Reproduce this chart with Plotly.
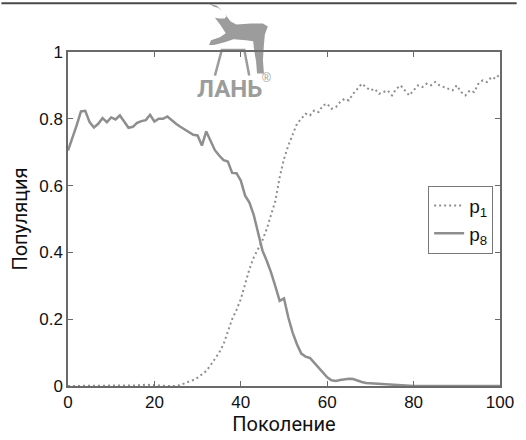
import plotly.graph_objects as go

# Generation index 0..100
generations = list(range(0, 101))

# Share of the population carrying allele p1 (dotted curve)
p1_share = [
    0.0, 0.0, 0.0, 0.0, 0.0, 0.0, 0.0, 0.0, 0.0, 0.0,
    0.0, 0.0, 0.0, 0.0, 0.0, 0.0, 0.002, 0.002, 0.004, 0.003,
    0.002, 0.0, 0.0, 0.0, 0.0, 0.0, 0.003, 0.008, 0.012, 0.018,
    0.025, 0.035, 0.045, 0.062, 0.08, 0.10, 0.125, 0.16, 0.20, 0.228,
    0.26, 0.305, 0.35, 0.385, 0.41, 0.436, 0.47, 0.51, 0.554, 0.625,
    0.68, 0.72, 0.755, 0.785, 0.80, 0.815, 0.81, 0.825, 0.82, 0.84,
    0.845, 0.83, 0.835, 0.85, 0.86, 0.855, 0.875, 0.89, 0.905, 0.895,
    0.885, 0.89, 0.875, 0.88, 0.885, 0.87, 0.89, 0.90, 0.885, 0.87,
    0.885, 0.90, 0.895, 0.905, 0.90, 0.91, 0.90, 0.895, 0.89, 0.885,
    0.90, 0.88, 0.87, 0.885, 0.88, 0.905, 0.915, 0.91, 0.925, 0.92,
    0.935,
]

# Share of the population carrying allele p8 (solid curve)
p8_share = [
    0.705, 0.74, 0.78, 0.822, 0.824, 0.79, 0.774, 0.785, 0.802, 0.79,
    0.804, 0.798, 0.81, 0.792, 0.773, 0.776, 0.788, 0.793, 0.796, 0.812,
    0.792, 0.80, 0.80, 0.807, 0.795, 0.785, 0.776, 0.768, 0.76, 0.752,
    0.75, 0.72, 0.762, 0.735, 0.706, 0.69, 0.676, 0.672, 0.638, 0.637,
    0.615, 0.57, 0.549, 0.512, 0.46, 0.406, 0.375, 0.34, 0.298, 0.255,
    0.262, 0.205, 0.16, 0.125, 0.097, 0.088, 0.084, 0.07, 0.057, 0.042,
    0.026, 0.017, 0.015, 0.018, 0.021, 0.022, 0.021, 0.016, 0.012, 0.009,
    0.008, 0.007, 0.006, 0.005, 0.004, 0.004, 0.003, 0.001, 0.0, 0.0,
    0.0, 0.0, 0.0, 0.0, 0.0, 0.0, 0.0, 0.002, 0.002, 0.002,
    0.002, 0.002, 0.0, 0.0, 0.0, 0.0, 0.0, 0.0, 0.0, 0.0,
    0.0,
]

x_ticks = [0, 20, 40, 60, 80, 100]
y_ticks = [0, 0.2, 0.4, 0.6, 0.8, 1]
y_tick_text = ["0", "0.2", "0.4", "0.6", "0.8", "1"]

W, H = 526, 440
M_L, M_R, M_T, M_B = 68, 17, 52, 48
PW, PH = W - M_L - M_R, H - M_T - M_B


def px_x(px):
    return (px - M_L) / PW


def px_y(py):
    return (H - M_B - py) / PH


curve_color = "#8e8e8e"
axis_color = "#6a6a6a"

fig = go.Figure()
fig.add_trace(go.Scatter(
    x=generations, y=p1_share, mode="lines", name="p<sub>1</sub>",
    line=dict(color=curve_color, width=2, dash="2px,3px"),
))
fig.add_trace(go.Scatter(
    x=generations, y=p8_share, mode="lines", name="p<sub>8</sub>",
    line=dict(color=curve_color, width=2.5),
))

axis_common = dict(
    showline=True, linecolor=axis_color, linewidth=1.5, mirror="ticks",
    ticks="inside", ticklen=5, tickcolor=axis_color, tickwidth=1.2,
    showgrid=False, zeroline=False,
    tickfont=dict(family="Liberation Sans, Arial, sans-serif", size=17, color="#111"),
)

fig.update_xaxes(
    range=[0, 100], tickvals=x_ticks, **axis_common,
    title=dict(text="Поколение", standoff=2,
               font=dict(family="Liberation Sans Narrow, Roboto, sans-serif", size=20, color="#111")),
)
fig.update_yaxes(
    range=[0, 1], tickvals=y_ticks, ticktext=y_tick_text, **axis_common,
    title=dict(text="Популяция", standoff=6,
               font=dict(family="Liberation Sans Narrow, Roboto, sans-serif", size=20, color="#111")),
)

# Publisher's mark: leaping deer over an open book, plus the wordmark
deer = [(212, 3), (217, 6), (221, 7), (225, 10), (230, 15), (228, 18), (222, 18),
        (218, 17), (224, 25), (229, 33), (223, 37), (214, 40), (212, 45), (217, 45),
        (228, 42), (237, 39), (250, 40), (257, 41), (258, 50), (260, 62), (261, 74),
        (268, 74), (267, 60), (268, 45), (269, 34), (272, 26), (267, 23), (255, 23),
        (240, 24), (234, 21), (228, 13), (220, 5)]
deer_path = "M " + " L ".join(f"{px_x(a):.4f},{px_y(b):.4f}" for a, b in deer) + " Z"
book = [(218, 76), (225, 50), (248, 50), (253, 76)]
book_path = "M " + " L ".join(f"{px_x(a):.4f},{px_y(b):.4f}" for a, b in book)

shapes = [
    dict(type="path", xref="paper", yref="paper", path=deer_path,
         fillcolor="#9c9c9c", line=dict(width=0), layer="below"),
    dict(type="path", xref="paper", yref="paper", path=book_path,
         line=dict(color="#9c9c9c", width=2.5), layer="below"),
    dict(type="line", xref="paper", yref="paper",
         x0=px_x(0), x1=px_x(W), y0=px_y(2.5), y1=px_y(2.5),
         line=dict(color="#4a4a4a", width=2)),
]

annotations = [
    dict(text="<b>ЛАНЬ</b>", xref="paper", yref="paper", x=px_x(233), y=px_y(90),
         showarrow=False, xanchor="center", yanchor="middle",
         font=dict(family="Liberation Sans Narrow, Roboto, sans-serif", size=24, color="#9c9c9c")),
    dict(text="®", xref="paper", yref="paper", x=px_x(271), y=px_y(78),
         showarrow=False, xanchor="center", yanchor="middle",
         font=dict(family="Liberation Sans, sans-serif", size=12, color="#9c9c9c")),
]

fig.update_layout(
    width=W, height=H,
    margin=dict(l=M_L, r=M_R, t=M_T, b=M_B, pad=0),
    paper_bgcolor="white", plot_bgcolor="white",
    shapes=shapes, annotations=annotations,
    legend=dict(
        x=px_x(502), xanchor="right", y=px_y(188), yanchor="top",
        bgcolor="white", bordercolor="#777", borderwidth=1,
        font=dict(family="Liberation Sans, Arial, sans-serif", size=19, color="#111"),
        tracegroupgap=0,
    ),
)

fig.write_html("out.html")
